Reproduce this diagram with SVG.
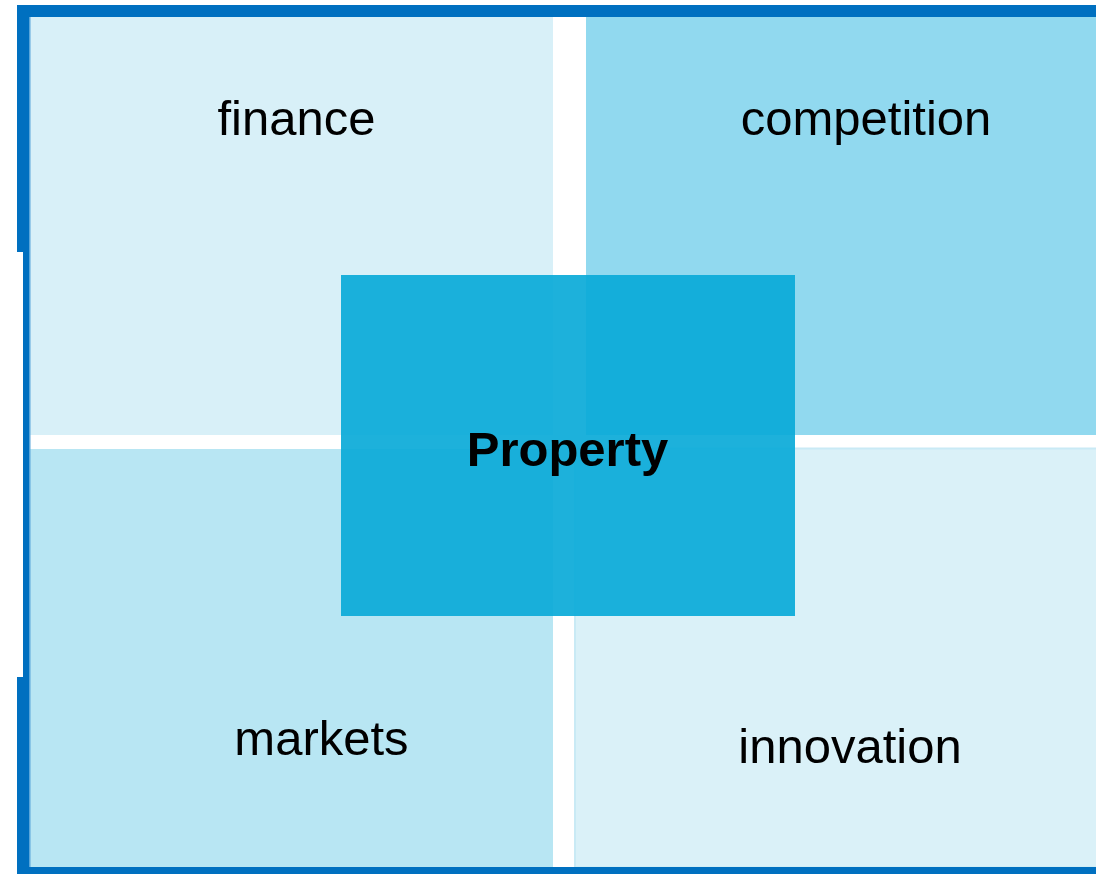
<svg xmlns="http://www.w3.org/2000/svg" width="1096" height="874" viewBox="0 0 1096 874">
<style>
.lbl{font-family:"Liberation Sans",Arial,sans-serif;font-size:49px;fill:#000;text-anchor:middle}
.bold{font-weight:bold}
</style>
<rect width="1096" height="874" fill="#fff"/>
<g id="finance">
<rect x="30" y="17" width="523" height="418" fill="#D8F0F8"/>
<text class="lbl" x="296.5" y="135">finance</text>
</g>
<g id="competition">
<rect x="586" y="17" width="510" height="418" fill="#91D9EF"/>
<text class="lbl" x="866" y="135">competition</text>
</g>
<g id="markets">
<rect x="30" y="449" width="523" height="418" fill="#B8E6F3"/>
<text class="lbl" x="321.5" y="755">markets</text>
</g>
<g id="innovation">
<rect x="575" y="448.5" width="522" height="419" fill="#DAF1F8" stroke="#C9EAF5" stroke-width="2"/>
<text class="lbl" x="850" y="763">innovation</text>
</g>
<g id="property">
<rect x="341" y="275" width="454" height="341" fill="#0AAAD8" fill-opacity="0.92"/>
<text class="lbl bold" x="567.5" y="466">Property</text>
</g>
<g id="frame">
<path d="M17,5 H1096 V17 H30 V867 H1096 V874 H17 V677 H23 V252 H17 Z" fill="#0070C0"/>
<rect x="29" y="17" width="1.5" height="850" fill="#5AA6DA"/>
</g>
<g id="connectors"/>
</svg>
